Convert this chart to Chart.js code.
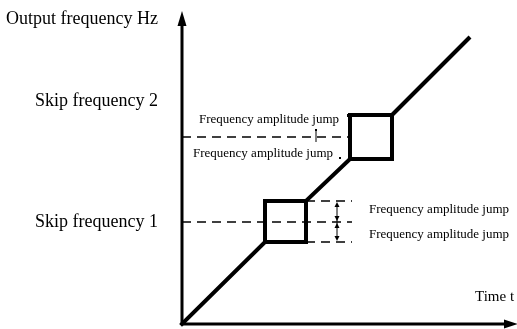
<!DOCTYPE html>
<html>
<head>
<meta charset="utf-8">
<script src="https://cdn.jsdelivr.net/npm/chart.js@4"></script>
<style>
  html, body { margin: 0; padding: 0; background: #fff; }
  #wrap { width: 517px; height: 329px; }
</style>
</head>
<body>
<div id="wrap"><canvas id="c" width="517" height="329"></canvas></div>
<script>
// time / frequency (arbitrary units)
const rampTime1 = [0, 83, 124, 124, 83, 83];
const rampFreq1 = [0, 82, 82, 123, 123, 82];
const rampTime2 = [124, 168, 210, 210, 168, 168];
const rampFreq2 = [123, 165, 165, 209, 209, 165];
const rampTime3 = [210, 288];
const rampFreq3 = [209, 287];

const skipFreqs = [102, 187];
const skipEnds = [170, 168];
const band1 = [82, 123];
const bandStart = 124;
const bandEnd = 170;
const jumpArrowTime = [155, 134];

const axisMaxTime = 335;
const axisMaxFreq = 312;

const toPts = (t, f) => t.map((v, i) => ({ x: v, y: f[i] }));

const thick = { showLine: true, pointRadius: 0, borderColor: '#000', borderWidth: 4, borderJoinStyle: 'miter', borderCapStyle: 'square', clip: false, tension: 0 };
const dashed = { showLine: true, pointRadius: 0, borderColor: '#000', borderWidth: 1.6, borderDash: [9, 6], clip: false };

const datasets = [
  { ...thick, data: toPts(rampTime1, rampFreq1) },
  { ...thick, data: toPts(rampTime2, rampFreq2) },
  { ...thick, borderCapStyle: 'butt', data: toPts(rampTime3, rampFreq3) },
  { ...dashed, data: [{ x: 0, y: skipFreqs[0] }, { x: skipEnds[0], y: skipFreqs[0] }] },
  { ...dashed, data: [{ x: 0, y: skipFreqs[1] }, { x: skipEnds[1], y: skipFreqs[1] }] },
  { ...dashed, data: [{ x: bandStart, y: band1[0] }, { x: bandEnd, y: band1[0] }] },
  { ...dashed, data: [{ x: bandStart, y: band1[1] }, { x: bandEnd, y: band1[1] }] }
];

function arrowHead(ctx, x, y, dir, w, h) {
  // dir: 'up' | 'down' | 'right'
  ctx.beginPath();
  if (dir === 'up') { ctx.moveTo(x, y); ctx.lineTo(x - w, y + h); ctx.lineTo(x + w, y + h); }
  else if (dir === 'down') { ctx.moveTo(x, y); ctx.lineTo(x - w, y - h); ctx.lineTo(x + w, y - h); }
  else { ctx.moveTo(x, y); ctx.lineTo(x - h, y - w); ctx.lineTo(x - h, y + w); }
  ctx.closePath();
  ctx.fill();
}

const decor = {
  id: 'decor',
  afterDatasetsDraw(chart) {
    const { ctx, scales: { x, y } } = chart;
    const x0 = x.getPixelForValue(0), y0 = y.getPixelForValue(0);
    ctx.save();
    ctx.fillStyle = '#000';
    ctx.strokeStyle = '#000';

    // axes
    ctx.lineWidth = 3;
    ctx.beginPath();
    ctx.moveTo(x0, y0 + 1);
    ctx.lineTo(x0, y.getPixelForValue(axisMaxFreq) + 10);
    ctx.moveTo(x0 - 1, y0);
    ctx.lineTo(x.getPixelForValue(axisMaxTime) - 8, y0);
    ctx.stroke();
    arrowHead(ctx, x0, y.getPixelForValue(axisMaxFreq) - 1, 'up', 4.5, 15);
    arrowHead(ctx, x.getPixelForValue(axisMaxTime) + 1, y0, 'right', 4.5, 14);

    // jump arrows, skip 1
    ctx.lineWidth = 1;
    const ax = x.getPixelForValue(jumpArrowTime[0]);
    const yt = y.getPixelForValue(band1[1]), ym = y.getPixelForValue(skipFreqs[0]), yb = y.getPixelForValue(band1[0]);
    ctx.beginPath();
    ctx.moveTo(ax, yt + 3); ctx.lineTo(ax, yb - 3);
    ctx.stroke();
    arrowHead(ctx, ax, yt + 1, 'up', 2.5, 5);
    arrowHead(ctx, ax, ym - 1, 'down', 2.5, 5);
    arrowHead(ctx, ax, ym + 1, 'up', 2.5, 5);
    arrowHead(ctx, ax, yb - 1, 'down', 2.5, 5);

    // small marker, skip 2
    const bx = x.getPixelForValue(jumpArrowTime[1]);
    const y2 = y.getPixelForValue(skipFreqs[1]);
    ctx.beginPath();
    ctx.moveTo(bx, y2 - 6); ctx.lineTo(bx, y2 + 5);
    ctx.stroke();
    ctx.fillRect(bx - 1, y2 - 8, 2, 2);
    ctx.fillRect(x.getPixelForValue(166) - 1, y.getPixelForValue(209) - 1, 2, 3);
    ctx.fillRect(x.getPixelForValue(158) - 1, y.getPixelForValue(166) - 1, 2, 2);

    // texts
    ctx.textBaseline = 'alphabetic';
    ctx.font = '18px "Liberation Serif", "Times New Roman", serif';
    ctx.textAlign = 'left';
    ctx.fillText('Output frequency Hz', 6, 24);
    ctx.textAlign = 'right';
    ctx.fillText('Skip frequency 2', x0 - 24, y.getPixelForValue(skipFreqs[1]) - 31);
    ctx.fillText('Skip frequency 1', x0 - 24, y.getPixelForValue(skipFreqs[0]) + 5);

    ctx.font = '15px "Liberation Serif", "Times New Roman", serif';
    ctx.textAlign = 'left';
    ctx.fillText('Time t', x.getPixelForValue(293), y0 - 23);

    ctx.font = '13px "Liberation Serif", "Times New Roman", serif';
    ctx.fillText('Frequency amplitude jump', x.getPixelForValue(17), y.getPixelForValue(205) + 4);
    ctx.fillText('Frequency amplitude jump', x.getPixelForValue(11), y.getPixelForValue(171) + 4);
    ctx.fillText('Frequency amplitude jump', x.getPixelForValue(187), y.getPixelForValue(115) + 4);
    ctx.fillText('Frequency amplitude jump', x.getPixelForValue(187), y.getPixelForValue(90) + 4);
    ctx.restore();
  }
};

new Chart(document.getElementById('c'), {
  type: 'scatter',
  data: { datasets },
  options: {
    responsive: false,
    animation: false,
    devicePixelRatio: 1,
    layout: { padding: { left: 182, right: 0, top: 12, bottom: 5 } },
    plugins: { legend: { display: false }, tooltip: { enabled: false } },
    scales: {
      x: { type: 'linear', min: 0, max: axisMaxTime, display: false },
      y: { type: 'linear', min: 0, max: axisMaxFreq, display: false }
    }
  },
  plugins: [decor]
});
</script>
</body>
</html>
